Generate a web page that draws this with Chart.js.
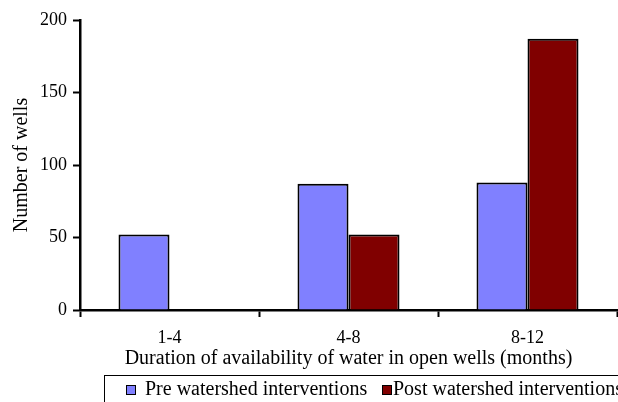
<!DOCTYPE html>
<html>
<head>
<meta charset="utf-8">
<script src="https://cdn.jsdelivr.net/npm/chart.js@4/dist/chart.umd.min.js"></script>
<style>
  html, body { margin: 0; padding: 0; background: #fff; overflow: hidden; }
  #wrap { position: relative; width: 618px; height: 402px; }
  #legend {
    position: absolute; left: 104px; top: 375px; width: 540px; height: 40px;
    border: 1px solid #000; box-sizing: border-box;
    font: 20px "Liberation Serif", serif; color: #000; white-space: nowrap;
  }
  #legend .sw {
    position: absolute; top: 9px; width: 8px; height: 8px; border: 1.5px solid #000;
  }
  #legend .tx { position: absolute; top: 1px; }
</style>
</head>
<body>
<div id="wrap">
  <canvas id="chart" width="618" height="402"></canvas>
  <div id="legend"></div>
</div>
<script>
const categories = ["1-4", "4-8", "8-12"];
const preValues = [52, 87, 88];
const postValues = [0, 52, 187];
const seriesNames = ["Pre watershed interventions", "Post watershed interventions"];
const seriesColors = ["#8080ff", "#800000"];
const yTicks = [0, 50, 100, 150, 200];

const FONT = "'Liberation Serif', 'Times New Roman', serif";

// legend drawn as html, box runs off the bottom/right like the original
const legend = document.getElementById("legend");
legend.innerHTML =
  `<span class="sw" style="left:21px;background:${seriesColors[0]}"></span><span class="tx" style="left:40px">${seriesNames[0]}</span>` +
  `<span class="sw" style="left:277px;background:${seriesColors[1]}"></span><span class="tx" style="left:288px">${seriesNames[1]}</span>`;

new Chart(document.getElementById("chart"), {
  type: "bar",
  data: {
    labels: categories,
    datasets: [
      { label: seriesNames[0], data: preValues, backgroundColor: seriesColors[0], borderColor: "#000", borderWidth: 2 },
      { label: seriesNames[1], data: postValues, backgroundColor: seriesColors[1], borderColor: "#000", borderWidth: 2 }
    ]
  },
  options: {
    responsive: false,
    animation: false,
    layout: { padding: { left: 12, right: 1, top: 20, bottom: 0 } },
    datasets: { bar: { barPercentage: 1, categoryPercentage: 0.57 } },
    plugins: { legend: { display: false }, tooltip: { enabled: false } },
    scales: {
      x: {
        // fixed height so the plot bottom sits where the original's does
        afterFit: scale => { scale.height = 92; },
        grid: { drawOnChartArea: false, tickLength: 7, tickColor: "#000", tickWidth: 2, offset: true },
        border: { color: "#000", width: 2.5 },
        ticks: { color: "#000", font: { family: FONT, size: 18, lineHeight: 1 }, padding: 12 },
        title: { display: true, text: "Duration of availability of water in open wells (months)", color: "#000",
                 font: { family: FONT, size: 20, lineHeight: 1 }, padding: { top: 0, bottom: 33 } }
      },
      y: {
        min: 0, max: 200,
        afterBuildTicks: axis => { axis.ticks = yTicks.map(v => ({ value: v })); },
        grid: { drawOnChartArea: false, tickLength: 7, tickColor: "#000", tickWidth: 2 },
        border: { color: "#000", width: 2.5 },
        ticks: { color: "#000", font: { family: FONT, size: 18, lineHeight: 1 }, padding: 6 },
        title: { display: true, text: "Number of wells", color: "#000",
                 font: { family: FONT, size: 20, lineHeight: 1 }, padding: { top: 0, bottom: 2 } }
      }
    }
  }
});
</script>
</body>
</html>
